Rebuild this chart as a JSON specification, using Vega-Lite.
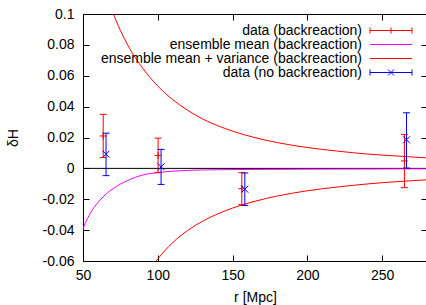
{
  "$schema": "https://vega.github.io/schema/vega-lite/v6.json",
  "width": 344,
  "height": 247,
  "autosize": {"type": "none"},
  "padding": {"left": 83, "top": 14, "right": 0, "bottom": 44},
  "background": "white",
  "config": {
    "view": {"stroke": "black", "strokeWidth": 1},
    "font": "Liberation Sans",
    "axis": {
      "domain": false,
      "grid": false,
      "tickColor": "black",
      "tickSize": -6,
      "tickWidth": 1,
      "labelColor": "black",
      "labelFont": "Liberation Sans",
      "labelFontSize": 14,
      "labelFlush": false,
      "labelOverlap": false,
      "titleFont": "Liberation Sans",
      "titleFontSize": 14,
      "titleFontWeight": "normal",
      "titleColor": "black"
    }
  },
  "datasets": {
    "zero": [{"v": 0}],
    "curves": [
      {"series": "ensemble mean (backreaction)", "branch": "mean", "r": 50, "d": -0.039},
      {"series": "ensemble mean (backreaction)", "branch": "mean", "r": 52, "d": -0.0345},
      {"series": "ensemble mean (backreaction)", "branch": "mean", "r": 54, "d": -0.0306},
      {"series": "ensemble mean (backreaction)", "branch": "mean", "r": 56, "d": -0.0273},
      {"series": "ensemble mean (backreaction)", "branch": "mean", "r": 58, "d": -0.0245},
      {"series": "ensemble mean (backreaction)", "branch": "mean", "r": 60, "d": -0.0221},
      {"series": "ensemble mean (backreaction)", "branch": "mean", "r": 62, "d": -0.0199},
      {"series": "ensemble mean (backreaction)", "branch": "mean", "r": 65, "d": -0.017},
      {"series": "ensemble mean (backreaction)", "branch": "mean", "r": 68, "d": -0.0146},
      {"series": "ensemble mean (backreaction)", "branch": "mean", "r": 70, "d": -0.0132},
      {"series": "ensemble mean (backreaction)", "branch": "mean", "r": 75, "d": -0.0102},
      {"series": "ensemble mean (backreaction)", "branch": "mean", "r": 80, "d": -0.0078},
      {"series": "ensemble mean (backreaction)", "branch": "mean", "r": 85, "d": -0.0058},
      {"series": "ensemble mean (backreaction)", "branch": "mean", "r": 90, "d": -0.0043},
      {"series": "ensemble mean (backreaction)", "branch": "mean", "r": 95, "d": -0.0033},
      {"series": "ensemble mean (backreaction)", "branch": "mean", "r": 100, "d": -0.0027},
      {"series": "ensemble mean (backreaction)", "branch": "mean", "r": 110, "d": -0.0018},
      {"series": "ensemble mean (backreaction)", "branch": "mean", "r": 120, "d": -0.0013},
      {"series": "ensemble mean (backreaction)", "branch": "mean", "r": 140, "d": -0.0009},
      {"series": "ensemble mean (backreaction)", "branch": "mean", "r": 160, "d": -0.0007},
      {"series": "ensemble mean (backreaction)", "branch": "mean", "r": 200, "d": -0.0005},
      {"series": "ensemble mean (backreaction)", "branch": "mean", "r": 240, "d": -0.0004},
      {"series": "ensemble mean (backreaction)", "branch": "mean", "r": 280, "d": -0.0003},
      {"series": "ensemble mean + variance (backreaction)", "branch": "upper", "r": 68, "d": 0.1065},
      {"series": "ensemble mean + variance (backreaction)", "branch": "upper", "r": 70, "d": 0.1011},
      {"series": "ensemble mean + variance (backreaction)", "branch": "upper", "r": 72, "d": 0.096},
      {"series": "ensemble mean + variance (backreaction)", "branch": "upper", "r": 75, "d": 0.0894},
      {"series": "ensemble mean + variance (backreaction)", "branch": "upper", "r": 80, "d": 0.0797},
      {"series": "ensemble mean + variance (backreaction)", "branch": "upper", "r": 85, "d": 0.0717},
      {"series": "ensemble mean + variance (backreaction)", "branch": "upper", "r": 90, "d": 0.0648},
      {"series": "ensemble mean + variance (backreaction)", "branch": "upper", "r": 95, "d": 0.0587},
      {"series": "ensemble mean + variance (backreaction)", "branch": "upper", "r": 100, "d": 0.0533},
      {"series": "ensemble mean + variance (backreaction)", "branch": "upper", "r": 110, "d": 0.0445},
      {"series": "ensemble mean + variance (backreaction)", "branch": "upper", "r": 120, "d": 0.0376},
      {"series": "ensemble mean + variance (backreaction)", "branch": "upper", "r": 130, "d": 0.032},
      {"series": "ensemble mean + variance (backreaction)", "branch": "upper", "r": 140, "d": 0.0277},
      {"series": "ensemble mean + variance (backreaction)", "branch": "upper", "r": 150, "d": 0.0241},
      {"series": "ensemble mean + variance (backreaction)", "branch": "upper", "r": 165, "d": 0.0199},
      {"series": "ensemble mean + variance (backreaction)", "branch": "upper", "r": 180, "d": 0.0167},
      {"series": "ensemble mean + variance (backreaction)", "branch": "upper", "r": 200, "d": 0.0135},
      {"series": "ensemble mean + variance (backreaction)", "branch": "upper", "r": 220, "d": 0.0112},
      {"series": "ensemble mean + variance (backreaction)", "branch": "upper", "r": 240, "d": 0.0093},
      {"series": "ensemble mean + variance (backreaction)", "branch": "upper", "r": 260, "d": 0.008},
      {"series": "ensemble mean + variance (backreaction)", "branch": "upper", "r": 280, "d": 0.0068},
      {"series": "ensemble mean + variance (backreaction)", "branch": "lower", "r": 95, "d": -0.0653},
      {"series": "ensemble mean + variance (backreaction)", "branch": "lower", "r": 100, "d": -0.0587},
      {"series": "ensemble mean + variance (backreaction)", "branch": "lower", "r": 105, "d": -0.053},
      {"series": "ensemble mean + variance (backreaction)", "branch": "lower", "r": 110, "d": -0.0481},
      {"series": "ensemble mean + variance (backreaction)", "branch": "lower", "r": 120, "d": -0.0402},
      {"series": "ensemble mean + variance (backreaction)", "branch": "lower", "r": 130, "d": -0.0342},
      {"series": "ensemble mean + variance (backreaction)", "branch": "lower", "r": 140, "d": -0.0295},
      {"series": "ensemble mean + variance (backreaction)", "branch": "lower", "r": 150, "d": -0.0257},
      {"series": "ensemble mean + variance (backreaction)", "branch": "lower", "r": 165, "d": -0.0213},
      {"series": "ensemble mean + variance (backreaction)", "branch": "lower", "r": 180, "d": -0.0179},
      {"series": "ensemble mean + variance (backreaction)", "branch": "lower", "r": 200, "d": -0.0145},
      {"series": "ensemble mean + variance (backreaction)", "branch": "lower", "r": 220, "d": -0.0121},
      {"series": "ensemble mean + variance (backreaction)", "branch": "lower", "r": 240, "d": -0.0101},
      {"series": "ensemble mean + variance (backreaction)", "branch": "lower", "r": 260, "d": -0.0086},
      {"series": "ensemble mean + variance (backreaction)", "branch": "lower", "r": 280, "d": -0.0074}
    ],
    "points": [
      {"series": "data (backreaction)", "r": 63.5, "d": 0.021, "lo": 0.007, "hi": 0.035},
      {"series": "data (backreaction)", "r": 100.2, "d": 0.0084, "lo": -0.0028, "hi": 0.0196},
      {"series": "data (backreaction)", "r": 156.2, "d": -0.0132, "lo": -0.0235, "hi": -0.0028},
      {"series": "data (backreaction)", "r": 264.9, "d": 0.0048, "lo": -0.0125, "hi": 0.022},
      {"series": "data (no backreaction)", "r": 65.4, "d": 0.0092, "lo": -0.0047, "hi": 0.0228},
      {"series": "data (no backreaction)", "r": 102.2, "d": 0.001, "lo": -0.0104, "hi": 0.0123},
      {"series": "data (no backreaction)", "r": 158.2, "d": -0.0135, "lo": -0.024, "hi": -0.003},
      {"series": "data (no backreaction)", "r": 266.3, "d": 0.0185, "lo": 0.0002, "hi": 0.036}
    ]
  },
  "resolve": {"axis": {"x": "independent", "y": "independent"}},
  "layer": [
    {
      "data": {"name": "zero"},
      "mark": {"type": "rule", "color": "black", "strokeWidth": 1},
      "encoding": {
        "y": {
          "field": "v", "type": "quantitative",
          "scale": {"domain": [-0.06, 0.1], "nice": false, "zero": false},
          "axis": {
            "orient": "left",
            "values": [-0.06, -0.04, -0.02, 0, 0.02, 0.04, 0.06, 0.08, 0.1],
            "labelPadding": 15,
            "labelExpr": "datum.value == 0 ? '0' : (datum.value < 0 ? '-' : '') + format(abs(datum.value), '~g')",
            "title": "δH",
            "titlePadding": 22
          }
        }
      }
    },
    {
      "data": {"name": "curves"},
      "mark": {"type": "line", "clip": true, "strokeWidth": 1, "interpolate": "monotone"},
      "encoding": {
        "x": {
          "field": "r", "type": "quantitative",
          "scale": {"domain": [50, 280], "nice": false, "zero": false},
          "axis": {
            "orient": "bottom",
            "values": [50, 100, 150, 200, 250],
            "labelPadding": 13,
            "title": "r [Mpc]",
            "titlePadding": 8
          }
        },
        "y": {
          "field": "d", "type": "quantitative",
          "axis": {
            "orient": "right",
            "values": [-0.06, -0.04, -0.02, 0, 0.02, 0.04, 0.06, 0.08, 0.1],
            "labels": false,
            "title": null
          }
        },
        "color": {
          "field": "series", "type": "nominal",
          "scale": {
            "domain": ["data (backreaction)", "ensemble mean (backreaction)", "ensemble mean + variance (backreaction)", "data (no backreaction)"],
            "range": ["#ff0000", "#ff00ff", "#ff0000", "#0000ff"]
          },
          "legend": {
            "orient": "none",
            "legendX": 301,
            "legendY": 9.5,
            "title": null,
            "padding": 0,
            "labelAlign": "right",
            "labelOffset": -36,
            "labelFontSize": 14,
            "labelFont": "Liberation Sans",
            "labelColor": "black",
            "labelLimit": 400,
            "symbolSize": 16,
            "symbolStrokeWidth": 1,
            "rowPadding": 0,
            "encode": {
              "symbols": {
                "update": {
                  "shape": {"signal": "datum.value === 'data (backreaction)' ? 'M-10.5,0H10.5M-10.5,-1.5V1.5M10.5,-1.5V1.5M0,-1.5V1.5' : (datum.value === 'data (no backreaction)' ? 'M-10.5,0H10.5M-10.5,-1.5V1.5M10.5,-1.5V1.5M-1.5,-1.5L1.5,1.5M-1.5,1.5L1.5,-1.5' : 'M-10.5,0H10.5')"},
                  "fill": {"value": "transparent"},
                  "opacity": {"value": 1}
                }
              }
            }
          }
        },
        "detail": {"field": "branch"}
      }
    },
    {
      "data": {"name": "points"},
      "mark": {"type": "rule", "strokeWidth": 1},
      "encoding": {
        "x": {
          "field": "r", "type": "quantitative",
          "axis": {
            "orient": "top",
            "values": [50, 100, 150, 200, 250],
            "labels": false,
            "title": null
          }
        },
        "y": {"field": "lo", "type": "quantitative", "axis": null},
        "y2": {"field": "hi"},
        "color": {"field": "series", "type": "nominal"}
      }
    },
    {
      "data": {"name": "points"},
      "mark": {"type": "point", "shape": "stroke", "filled": false, "size": 49, "strokeWidth": 1, "opacity": 1},
      "encoding": {
        "x": {"field": "r", "type": "quantitative", "axis": null},
        "y": {"field": "lo", "type": "quantitative", "axis": null},
        "color": {"field": "series", "type": "nominal"}
      }
    },
    {
      "data": {"name": "points"},
      "mark": {"type": "point", "shape": "stroke", "filled": false, "size": 49, "strokeWidth": 1, "opacity": 1},
      "encoding": {
        "x": {"field": "r", "type": "quantitative", "axis": null},
        "y": {"field": "hi", "type": "quantitative", "axis": null},
        "color": {"field": "series", "type": "nominal"}
      }
    },
    {
      "data": {"name": "points"},
      "mark": {"type": "point", "filled": false, "size": 49, "strokeWidth": 1, "opacity": 1},
      "encoding": {
        "x": {"field": "r", "type": "quantitative", "axis": null},
        "y": {"field": "d", "type": "quantitative", "axis": null},
        "shape": {
          "field": "series", "type": "nominal",
          "scale": {
            "domain": ["data (backreaction)", "data (no backreaction)"],
            "range": ["M-1,0H1M0,-1V1", "M-1,-1L1,1M-1,1L1,-1"]
          },
          "legend": null
        },
        "color": {"field": "series", "type": "nominal"}
      }
    }
  ]
}
